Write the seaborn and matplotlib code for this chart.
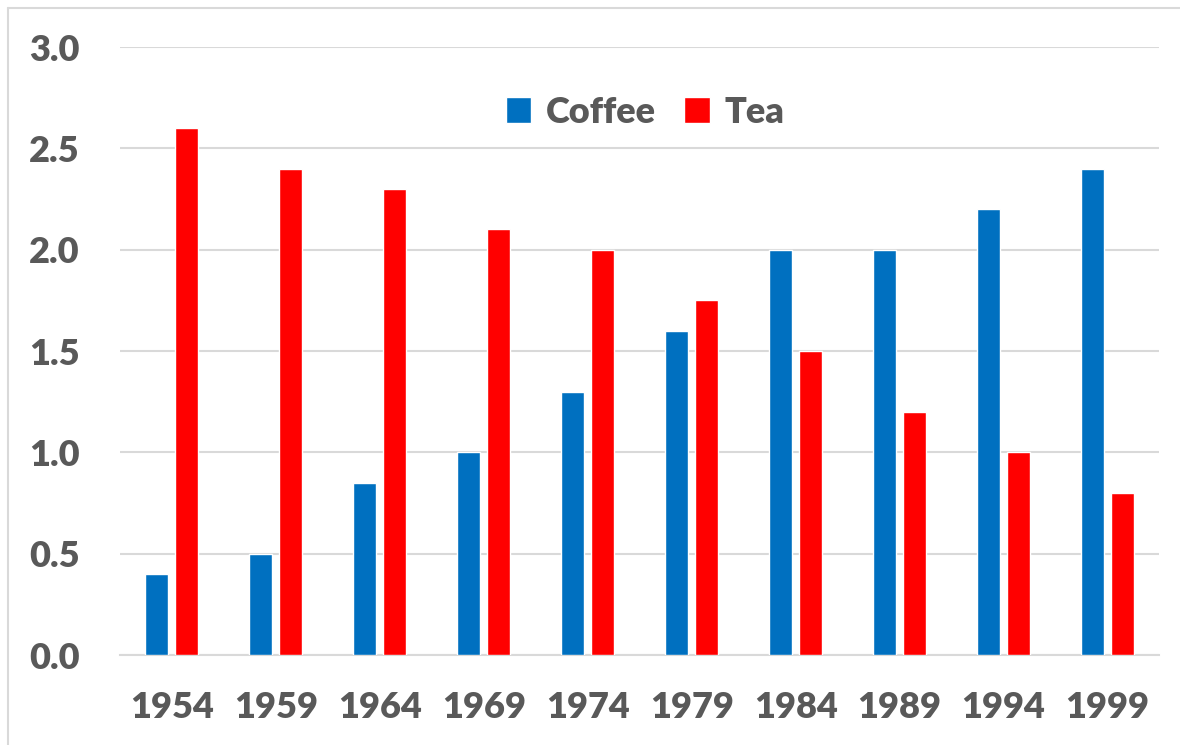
import numpy as np
import pandas as pd
import matplotlib
matplotlib.use("Agg")
import matplotlib.pyplot as plt
from matplotlib.lines import Line2D
import seaborn as sns

years = ["1954", "1959", "1964", "1969", "1974", "1979", "1984", "1989", "1994", "1999"]
coffee = [0.4, 0.5, 0.85, 1.0, 1.3, 1.6, 2.0, 2.0, 2.2, 2.4]
tea = [2.6, 2.4, 2.3, 2.1, 2.0, 1.75, 1.5, 1.2, 1.0, 0.8]
series = ["Coffee", "Tea"]
colors = {"Coffee": "#0070C0", "Tea": "#FF0000"}

df = pd.DataFrame({
    "year": years * 2,
    "value": coffee + tea,
    "drink": ["Coffee"] * len(years) + ["Tea"] * len(years),
})

sns.set_style("white")
plt.rcParams["font.family"] = ["Lato", "DejaVu Sans"]
text_color = "#595959"
grid_color = "#D9D9D9"

fig = plt.figure(figsize=(11.8, 7.45), dpi=100)
ax = fig.add_axes([0.1017, 0.1208, 0.8809, 0.8161])

sns.barplot(data=df, x="year", y="value", hue="drink", hue_order=series,
            palette=colors, width=0.577, gap=0.233, saturation=1,
            order=years, ax=ax, zorder=3)

ax.set_ylim(0, 3.0)
ax.set_yticks(np.arange(0, 3.01, 0.5))
ax.set_yticklabels([f"{v:.1f}" for v in np.arange(0, 3.01, 0.5)])
ax.yaxis.grid(True, color=grid_color, lw=1.5, zorder=0)
ax.set_axisbelow(True)
ax.set_xlabel("")
ax.set_ylabel("")
for s in ["left", "right", "top"]:
    ax.spines[s].set_visible(False)
ax.spines["bottom"].set_color(grid_color)
ax.spines["bottom"].set_linewidth(1.5)

ax.tick_params(axis="both", length=0, labelsize=26, labelcolor=text_color)
ax.tick_params(axis="y", pad=29)
ax.tick_params(axis="x", pad=26)
for lbl in ax.get_xticklabels() + ax.get_yticklabels():
    lbl.set_fontweight("heavy")

ax.legend(loc="center", bbox_to_anchor=(0.505, 0.893), ncol=2, frameon=False,
          prop={"size": 26, "weight": "heavy"}, labelcolor=text_color,
          handlelength=0.7, handleheight=0.7, handletextpad=0.4,
          columnspacing=0.8)

# thin border lines at the top and left of the image
fig.add_artist(Line2D([8 / 1180, 1], [1 - 8 / 745, 1 - 8 / 745],
                      color=grid_color, lw=1.5, transform=fig.transFigure))
fig.add_artist(Line2D([8 / 1180, 8 / 1180], [0, 1 - 8 / 745],
                      color=grid_color, lw=1.5, transform=fig.transFigure))

fig.savefig("out.png", dpi=100)
